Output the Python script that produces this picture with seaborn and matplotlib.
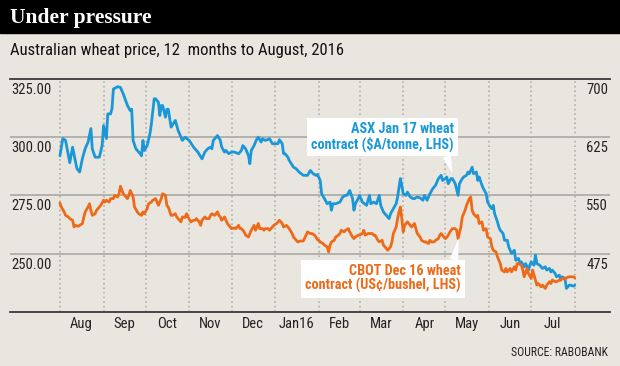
import numpy as np
import pandas as pd
import seaborn as sns
import matplotlib.pyplot as plt
from matplotlib.patches import Rectangle
from matplotlib.transforms import blended_transform_factory

start = pd.Timestamp('2015-08-01')

# ASX Jan 17 wheat, $A/tonne (days since 1 Aug 2015)
asx_day = [0, 2, 4, 7, 9, 12, 14, 16, 18, 20,
           22, 23, 25, 28, 30, 31, 33, 34, 36, 37,
           38, 41, 43, 45, 48, 50, 51, 52, 54, 57,
           58, 59, 60, 62, 64, 65, 67, 68, 70, 71,
           72, 73, 75, 76, 77, 79, 82, 84, 87, 89,
           92, 95, 98, 101, 103, 105, 107, 108, 109, 112,
           114, 115, 117, 118, 120, 122, 124, 127, 129, 130,
           132, 134, 135, 136, 138, 140, 141, 143, 144, 146,
           149, 151, 153, 155, 156, 158, 159, 160, 162, 163,
           166, 168, 170, 173, 176, 178, 180, 182, 183, 185,
           186, 188, 190, 192, 193, 194, 196, 199, 201, 203,
           204, 206, 208, 209, 210, 212, 213, 215, 218, 220,
           221, 223, 225, 227, 228, 230, 232, 234, 235, 237,
           239, 240, 242, 243, 244, 246, 247, 249, 251, 252,
           254, 256, 258, 259, 261, 263, 265, 267, 269, 271,
           272, 274, 275, 276, 278, 279, 281, 283, 284, 286,
           287, 289, 290, 291, 293, 294, 296, 297, 298, 300,
           301, 303, 304, 306, 307, 308, 309, 311, 312, 313,
           315, 316, 318, 319, 321, 323, 324, 326, 327, 328,
           330, 331, 333, 334, 335, 337, 338, 339, 341, 343,
           345, 346, 348, 349, 350, 352, 353, 355, 356, 357,
           359, 360, 362, 363, 365, 366]
asx_price = [292.0, 299.4, 298.6, 289.0, 295.7, 286.6, 285.0, 290.9, 295.2, 297.9,
             303.7, 295.0, 291.4, 291.4, 296.4, 305.0, 299.4, 310.0, 310.0, 312.3,
             320.7, 321.7, 321.4, 318.6, 313.6, 311.4, 312.0, 298.6, 295.0, 292.9,
             292.0, 298.6, 294.3, 296.4, 301.5, 305.7, 316.5, 316.5, 315.0, 309.3,
             313.6, 313.6, 308.6, 312.0, 312.0, 304.3, 307.2, 302.9, 298.6, 300.0,
             298.5, 295.7, 293.6, 290.7, 293.6, 295.0, 295.7, 295.0, 298.6, 300.7,
             298.6, 295.7, 293.6, 294.3, 292.9, 293.6, 293.6, 292.9, 294.3, 296.4,
             295.0, 292.1, 288.6, 294.3, 296.4, 299.3, 300.0, 297.9, 299.3, 298.6,
             299.3, 297.2, 297.2, 297.2, 298.9, 297.2, 292.9, 292.9, 291.4, 290.0,
             287.1, 286.4, 285.0, 283.6, 283.6, 285.7, 284.3, 283.6, 284.0, 281.4,
             275.7, 273.6, 271.4, 272.1, 268.6, 271.4, 271.4, 272.1, 274.3, 275.0,
             275.0, 277.1, 273.6, 268.6, 271.4, 273.6, 275.0, 272.1, 270.7, 275.0,
             271.4, 272.1, 271.4, 275.0, 270.7, 267.8, 266.4, 265.0, 267.1, 269.3,
             271.4, 274.3, 282.2, 279.3, 275.7, 275.0, 276.4, 274.3, 273.6, 273.6,
             274.3, 273.9, 272.9, 275.0, 272.9, 275.7, 277.9, 279.3, 282.2, 283.6,
             281.4, 282.2, 282.9, 280.0, 282.2, 282.2, 280.0, 275.0, 280.0, 282.2,
             282.9, 283.6, 285.0, 284.3, 287.1, 284.3, 285.0, 281.4, 282.9, 279.3,
             277.9, 275.7, 272.1, 270.0, 269.3, 270.7, 267.1, 263.6, 261.4, 260.0,
             258.6, 255.7, 255.7, 252.9, 250.0, 251.4, 247.1, 247.9, 245.7, 246.4,
             244.3, 245.7, 242.9, 245.0, 246.4, 245.0, 249.3, 245.7, 245.0, 243.6,
             244.3, 242.9, 243.6, 242.1, 242.9, 241.4, 240.0, 240.7, 238.6, 240.0,
             239.3, 235.0, 236.4, 236.4, 236.0, 236.4]

# CBOT Dec 16 wheat, read on the left scale
cbot_day = [0, 1, 3, 4, 6, 7, 9, 10, 11, 13,
            14, 16, 17, 18, 20, 21, 22, 23, 25, 26,
            28, 29, 31, 32, 33, 35, 36, 38, 39, 41,
            42, 43, 45, 46, 48, 49, 50, 52, 53, 55,
            56, 58, 59, 60, 62, 63, 65, 66, 68, 69,
            70, 72, 73, 75, 76, 77, 79, 80, 82, 83,
            85, 86, 87, 89, 90, 91, 93, 95, 96, 97,
            99, 100, 101, 103, 104, 106, 107, 108, 110, 112,
            113, 114, 115, 117, 118, 119, 121, 122, 124, 125,
            127, 128, 129, 131, 132, 134, 135, 136, 138, 139,
            141, 142, 144, 145, 146, 148, 149, 151, 152, 154,
            155, 156, 158, 159, 161, 162, 163, 165, 166, 168,
            169, 171, 172, 173, 175, 176, 178, 179, 181, 182,
            183, 184, 185, 187, 188, 190, 191, 192, 193, 195,
            196, 198, 199, 200, 202, 203, 205, 206, 208, 209,
            210, 212, 213, 215, 216, 217, 219, 220, 222, 223,
            224, 226, 227, 229, 230, 232, 233, 235, 236, 237,
            239, 240, 241, 242, 243, 244, 245, 246, 247, 249,
            250, 252, 253, 254, 256, 257, 259, 260, 262, 263,
            264, 266, 267, 269, 270, 271, 273, 274, 275, 276,
            278, 279, 281, 282, 283, 285, 286, 288, 289, 291,
            292, 293, 294, 296, 297, 298, 300, 301, 303, 304,
            306, 307, 308, 310, 311, 313, 314, 316, 317, 318,
            320, 321, 323, 324, 325, 326, 328, 329, 330, 332,
            333, 335, 336, 338, 339, 340, 342, 343, 345, 346,
            348, 349, 350, 352, 353, 355, 356, 357, 359, 360,
            362, 363, 365, 366]
cbot_price = [271.7, 270.0, 267.9, 266.4, 265.7, 265.0, 264.3, 261.4, 262.1, 261.7,
              262.1, 262.9, 265.7, 267.9, 270.0, 271.4, 268.6, 266.4, 267.1, 268.6,
              270.0, 270.7, 272.9, 272.1, 272.9, 272.1, 273.6, 273.6, 275.0, 274.3,
              275.7, 278.9, 275.7, 275.0, 273.6, 275.0, 277.1, 274.3, 270.0, 267.9,
              267.1, 266.4, 267.9, 267.1, 269.3, 271.4, 272.1, 272.9, 273.6, 272.1,
              270.7, 273.6, 275.7, 275.0, 270.7, 270.0, 266.4, 266.4, 267.1, 265.7,
              264.3, 263.6, 265.7, 265.5, 267.1, 265.7, 263.6, 264.3, 264.3, 265.0,
              263.6, 262.1, 264.3, 265.7, 265.0, 265.0, 266.4, 267.1, 266.4, 267.9,
              266.4, 265.7, 264.3, 265.7, 264.3, 262.9, 261.4, 260.7, 261.0, 260.7,
              262.1, 260.7, 260.7, 259.3, 257.9, 257.1, 258.6, 260.0, 262.1, 260.0,
              262.9, 260.7, 260.7, 260.0, 260.7, 260.7, 260.0, 261.4, 262.1, 262.9,
              263.6, 264.3, 262.9, 261.4, 262.1, 261.4, 260.7, 258.6, 257.1, 255.7,
              255.0, 255.4, 255.4, 255.4, 257.9, 259.3, 258.6, 258.6, 257.9, 257.1,
              256.0, 255.7, 255.0, 254.3, 253.6, 252.9, 250.7, 253.6, 255.0, 255.7,
              257.1, 257.9, 258.6, 260.0, 259.3, 260.0, 260.7, 259.3, 257.1, 256.4,
              257.1, 257.9, 257.9, 258.6, 260.0, 257.9, 258.6, 258.6, 258.6, 257.9,
              257.9, 255.7, 255.0, 255.7, 253.6, 252.1, 251.4, 252.9, 255.0, 258.6,
              261.4, 265.0, 267.9, 270.0, 265.0, 259.3, 262.1, 262.9, 263.6, 262.1,
              261.4, 262.9, 260.7, 258.6, 257.1, 255.7, 255.0, 255.0, 254.3, 255.7,
              255.0, 255.0, 255.7, 256.4, 257.9, 258.6, 257.0, 256.4, 257.0, 257.9,
              260.0, 260.7, 260.7, 260.0, 256.4, 261.4, 265.7, 268.6, 270.7, 273.6,
              274.3, 268.6, 267.1, 265.7, 266.4, 262.9, 263.6, 260.0, 260.7, 257.1,
              256.4, 252.9, 251.4, 250.7, 248.6, 245.7, 242.9, 242.1, 243.6, 242.1,
              243.6, 242.1, 244.3, 242.9, 245.7, 245.7, 245.0, 242.9, 240.0, 243.6,
              241.4, 239.3, 242.9, 238.6, 236.4, 237.1, 235.7, 236.4, 235.0, 236.4,
              237.9, 237.1, 238.6, 237.9, 237.9, 238.6, 238.6, 239.3, 239.0, 239.6,
              240.0, 240.0, 240.0, 239.6]

left_ticks = [250, 275, 300, 325]
right_ticks = [475, 550, 625, 700]
month_labels = ['Aug', 'Sep', 'Oct', 'Nov', 'Dec', 'Jan16',
                'Feb', 'Mar', 'Apr', 'May', 'Jun', 'Jul']

blue = '#1a97d8'
orange = '#ee6a18'
bg = '#e9e6df'

asx = pd.DataFrame({'date': start + pd.to_timedelta(asx_day, unit='D'),
                    'price': asx_price, 'series': 'ASX'})
cbot = pd.DataFrame({'date': start + pd.to_timedelta(cbot_day, unit='D'),
                     'price': cbot_price, 'series': 'CBOT'})
df = pd.concat([asx, cbot], ignore_index=True)

sns.set_style('white')
plt.rcParams['font.family'] = ['Roboto Condensed', 'Liberation Sans Narrow', 'Roboto', 'DejaVu Sans']
plt.rcParams['text.color'] = '#222222'

fig = plt.figure(figsize=(6.2, 3.66), dpi=100, facecolor=bg)
ax = fig.add_axes([10 / 620, 1 - 311.7 / 366, 600 / 620, (311.7 - 79) / 366])
ax.set_facecolor(bg)

# header bar
fig.add_artist(Rectangle((0, 1 - 33 / 366), 1, 33 / 366, transform=fig.transFigure,
                         color='black', zorder=0))
fig.text(10 / 620, 1 - 18 / 366, 'Under pressure', color='white', fontsize=15.5,
         fontweight='bold', family=['Liberation Serif', 'DejaVu Serif'], va='center')
fig.text(10 / 620, 1 - 50 / 366, 'Australian wheat price, 12  months to August, 2016',
         fontsize=12, va='center', color='#111111')
fig.text(608 / 620, 1 - 353 / 366, 'SOURCE: RABOBANK', fontsize=8.5, ha='right', va='center')

# month boundaries (dotted)
bounds = pd.date_range('2015-08-01', '2016-08-01', freq='MS')
ax.vlines(bounds, 225, 325, colors='#a9a7a1', linestyles=(0, (1, 2)), lw=1.1, zorder=1)
for v in left_ticks[:-1]:
    ax.axhline(v, color='#b3b1ab', lw=1.4, zorder=1)

sns.lineplot(data=df, x='date', y='price', hue='series',
             palette={'ASX': blue, 'CBOT': orange}, estimator=None,
             linewidth=2.0, legend=False, ax=ax, zorder=3)

ax.set_ylim(225, 325)
ax.set_xlim(bounds[0] - pd.Timedelta(days=35.5), bounds[-1] + pd.Timedelta(days=25))
ax.set_xlabel('')
ax.set_ylabel('')
ax.set_yticks([])
ax.set_xticks(bounds[:-1] + pd.Timedelta(days=15))
ax.set_xticklabels(month_labels)
ax.tick_params(axis='x', length=0, pad=4, labelsize=10.5, labelcolor='#222222')
for s in ['left', 'right']:
    ax.spines[s].set_visible(False)
for s in ['top', 'bottom']:
    ax.spines[s].set_color('#3a3a3a')
    ax.spines[s].set_linewidth(1.3)

ltrans = blended_transform_factory(ax.transAxes, ax.transData)
for v in left_ticks:
    ax.annotate(f'{v:.2f}', xy=(0, v), xycoords=ltrans, xytext=(1, -8),
                textcoords='offset points', ha='left', va='center', fontsize=10.5)

ax2 = ax.twinx()
ax2.set_ylim(400, 700)
ax2.set_yticks([])
for s in ax2.spines.values():
    s.set_visible(False)
rtrans = blended_transform_factory(ax2.transAxes, ax2.transData)
for v in right_ticks:
    ax2.annotate(f'{v}', xy=(1, v), xycoords=rtrans, xytext=(-1.5, -8),
                 textcoords='offset points', ha='right', va='center', fontsize=10.5)

# callouts
ax.annotate('ASX Jan 17 wheat\ncontract ($A/tonne, LHS)',
            xy=(start + pd.Timedelta(days=279), 284.5),
            xytext=(start + pd.Timedelta(days=280), 300.1),
            ha='right', va='center', multialignment='right', linespacing=1.05,
            color=blue, fontsize=10.3, fontweight='bold', zorder=5,
            bbox=dict(boxstyle='square,pad=0.3', fc='white', ec='none'),
            arrowprops=dict(arrowstyle='wedge,tail_width=0.6', fc='white', ec='none',
                            relpos=(0.94, 0), shrinkA=0, shrinkB=0))
ax.annotate('CBOT Dec 16 wheat\ncontract (US¢/bushel, LHS)',
            xy=(start + pd.Timedelta(days=283.5), 256.6),
            xytext=(start + pd.Timedelta(days=285), 239.2),
            ha='right', va='center', multialignment='right', linespacing=1.05,
            color=orange, fontsize=10.3, fontweight='bold', zorder=5,
            bbox=dict(boxstyle='square,pad=0.3', fc='white', ec='none'),
            arrowprops=dict(arrowstyle='wedge,tail_width=0.6', fc='white', ec='none',
                            relpos=(0.95, 1), shrinkA=0, shrinkB=0))

fig.savefig('out.png', dpi=100, facecolor=bg)
